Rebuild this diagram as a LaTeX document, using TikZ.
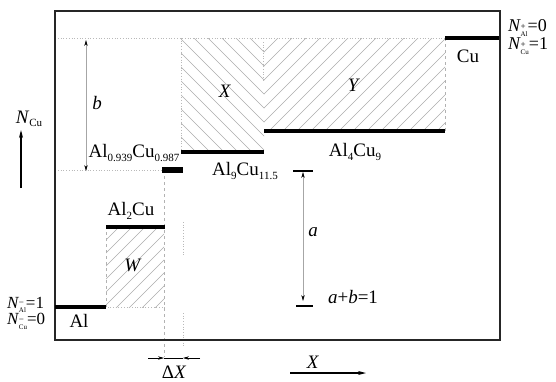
\documentclass[tikz,border=0pt]{standalone}
\usepackage{fontspec}
\setmainfont{Liberation Serif}
\usetikzlibrary{arrows.meta}
\newcommand\lsub[1]{\raisebox{-0.4ex}{\fontsize{11}{11}\selectfont #1}}
\newcommand\Nss[2]{\textit{N}\kern-0.02em\raisebox{-0.55ex}{\shortstack[l]{\fontsize{9}{6}\selectfont #1\\[-1pt]\fontsize{7}{7}\selectfont #2}}}
\begin{document}
\begin{tikzpicture}[x=1pt,y=-1pt,
  lvl/.style={line width=4pt},
  hatchline/.style={gray!65,line width=0.4pt},
  guide/.style={gray!55,dotted,line width=0.7pt},
  guidedash/.style={gray!60,dashed,line width=0.5pt},
  lab/.style={font=\fontsize{19}{20}\selectfont, inner sep=0pt},
  slab/.style={inner sep=0pt, align=left},
  dimline/.style={gray!70,line width=0.5pt},
  tipb/.style={-{Stealth[length=6pt,width=3.4pt,black]}},
  bigarrow/.style={line width=1.1pt,-{Stealth[length=8pt,width=4pt]}},
]
\useasboundingbox (0,0) rectangle (556,381);

% hatching X
\begin{scope}
\clip (181,38) rectangle (264,152);
\foreach \k in {0,...,16} {
  \pgfmathsetmacro\c{-226+14*\k}
  \draw[hatchline] (150,{150+\c}) -- (300,{300+\c});
}
\end{scope}
% hatching Y
\begin{scope}
\clip (264,38) rectangle (445,131);
\foreach \k in {0,...,20} {
  \pgfmathsetmacro\d{302+14*\k}
  \draw[hatchline] (240,{\d-240}) -- (460,{\d-460});
}
\end{scope}
% hatching W
\begin{scope}
\clip (106,227) rectangle (164,307);
\foreach \k in {0,...,11} {
  \pgfmathsetmacro\e{333+13*\k}
  \draw[hatchline] (90,{\e-90}) -- (180,{\e-180});
}
\end{scope}

% coordinates
\coordinate (tl) at (55,11);
\coordinate (br) at (500,340);
\coordinate (al1) at (55,307);   \coordinate (al2) at (106,307);
\coordinate (w1) at (106,227);   \coordinate (w2) at (165,227);
\coordinate (m1) at (162,170);   \coordinate (m2) at (183,170);
\coordinate (n1) at (181,152);   \coordinate (n2) at (264,152);
\coordinate (q1) at (264,131);   \coordinate (q2) at (445,131);
\coordinate (c1) at (445,38);    \coordinate (c2) at (499,38);

% guide lines
\draw[guide] (58,38) -- (c1);
\draw[guide] (58,170) -- (m1);
\draw[guide] (181,38) -- (n1);
\draw[guide] (263,42) -- (263,82);
\draw[guidedash] (c1) -- (q2);
\draw[guidedash] (al2) -- (w1);
\draw[guide] (w2 |- al1) -- (al2);
\draw[guidedash] (164,170) -- (164,357);
\draw[guide] (183,222) -- (183,255);
\draw[guide] (183,313) -- (183,347);

% frame
\draw[line width=1.3pt,black!85] (tl) rectangle (br);

% levels
\draw[lvl] (al1) -- (al2);
\draw[lvl] (w1) -- (w2);
\draw[line width=6pt] (m1) -- (m2);
\draw[lvl] (n1) -- (n2);
\draw[lvl] (q1) -- (q2);
\draw[lvl] (c1) -- (c2);

% b dimension
\coordinate (bt) at (86,40);
\coordinate (bb) at (86,171);
\draw[dimline,{Stealth[length=6pt,width=3.4pt,black]}-{Stealth[length=6pt,width=3.4pt,black]}] (bt) -- (bb);
\node[lab] (b) at (97,103) {\textit{b}};

% a dimension
\coordinate (at) at (303,172);
\coordinate (ab) at (303,301);
\draw[dimline,{Stealth[length=6pt,width=3.4pt,black]}-{Stealth[length=6pt,width=3.4pt,black]}] (at) -- (ab);
\draw[line width=1.2pt] (293,171) -- (313,171);
\draw[line width=1.2pt] (296,306) -- (313,306);
\node[lab] (a) at (313,232) {\textit{a}};
\node[lab] (ab1) at (353,297) {\textit{a}+\textit{b}=1};

% Delta X
\coordinate (dl) at (148,358);
\coordinate (da) at (164,358);
\coordinate (db) at (183,358);
\coordinate (dr) at (200,358);
\draw[line width=0.6pt] (da) -- (db);
\draw[line width=0.6pt,tipb] (dl) -- (da);
\draw[line width=0.6pt,tipb] (dr) -- (db);
\node[lab] (dx) at (174,372) {Δ\textit{X}};

% X axis arrow
\coordinate (xa) at (290,373);
\coordinate (xb) at (366,373);
\draw[bigarrow] (xa) -- (xb);
\node[lab] (xl) at (313,362) {\textit{X}};

% N_Cu arrow
\coordinate (ya) at (21,188);
\coordinate (yb) at (21,130);
\draw[bigarrow] (ya) -- (yb);
\node[lab] (ncu) at (29,119) {\textit{N}\lsub{Cu}};

% phase labels
\node[lab] (lal) at (79,321) {Al};
\node[lab] (lal2cu) at (131,211) {Al\lsub{2}Cu};
\node[lab] (lmid) at (134,153) {Al\lsub{0.939}Cu\lsub{0.987}};
\node[lab] (l911) at (245,171) {Al\lsub{9}Cu\lsub{11.5}};
\node[lab] (l49) at (355,152) {Al\lsub{4}Cu\lsub{9}};
\node[lab] (lcu) at (468,56) {Cu};
\node[lab] (lx) at (225,91) {\textit{X}};
\node[lab] (ly) at (354,85) {\textit{Y}};
\node[lab] (lw) at (133,265) {\textit{W}};

% boundary conditions
\node[slab,anchor=west,font=\fontsize{18}{18}\selectfont] (nplus) at (508,37) {\Nss{+}{Al}=0\\\Nss{+}{Cu}=1};
\node[slab,anchor=west,font=\fontsize{17}{14}\selectfont] (nminus) at (7,313) {\Nss{−}{Al}=1\\\Nss{−}{Cu}=0};
\end{tikzpicture}
\end{document}
